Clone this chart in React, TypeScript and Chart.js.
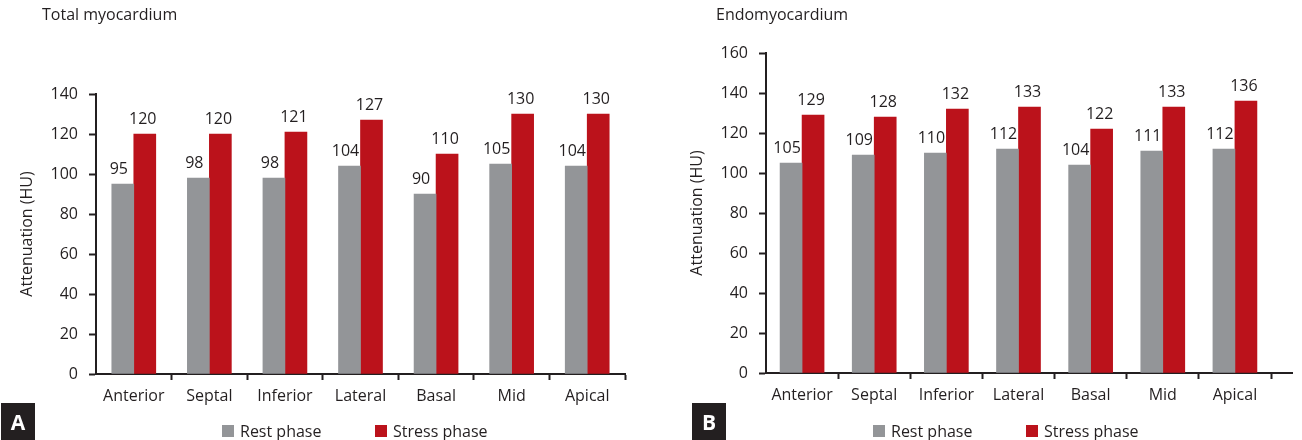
import React, { useEffect, useRef } from 'react';
import { Chart, registerables } from 'chart.js';

Chart.register(...registerables);

// ---- data ----
const categories = ['Anterior', 'Septal', 'Inferior', 'Lateral', 'Basal', 'Mid', 'Apical'];
const seriesLabels = ['Rest phase', 'Stress phase'];
const totalRest = [95, 98, 98, 104, 90, 105, 104];
const totalStress = [120, 120, 121, 127, 110, 130, 130];
const endoRest = [105, 109, 110, 112, 104, 111, 112];
const endoStress = [129, 128, 132, 133, 122, 133, 136];
const totalAxisMax = 140;
const endoAxisMax = 160;
const axisStep = 20;
const yAxisTitle = 'Attenuation (HU)';

// ---- styles ----
const FONT = '"Open Sans", "DejaVu Sans", sans-serif';
const GRAY = '#939598';
const RED = '#bb121b';
const TEXT = '#231f20';
const AXIS = '#231f20';
const LABEL_SHIFT = [-4, -2];

const valueLabelPlugin = {
  id: 'valueLabels',
  afterDatasetsDraw(chart: any) {
    const { ctx } = chart;
    ctx.save();
    ctx.font = `16px ${FONT}`;
    ctx.fillStyle = TEXT;
    ctx.textAlign = 'center';
    ctx.textBaseline = 'alphabetic';
    chart.data.datasets.forEach((ds: any, di: number) => {
      const meta = chart.getDatasetMeta(di);
      meta.data.forEach((el: any, i: number) => {
        ctx.fillText(String(ds.data[i]), el.x + LABEL_SHIFT[di], el.y - 10);
      });
    });
    ctx.restore();
  },
};

const decorPlugin = {
  id: 'decor',
  afterDraw(chart: any, _args: any, opts: any) {
    const { ctx, chartArea } = chart;
    ctx.save();
    // panel title
    ctx.font = `16px ${FONT}`;
    ctx.fillStyle = TEXT;
    ctx.textAlign = 'left';
    ctx.textBaseline = 'alphabetic';
    ctx.fillText(opts.title, opts.titleX, 20);
    // panel badge
    ctx.fillStyle = '#231f20';
    ctx.fillRect(opts.badgeX, 403, 34, 37);
    ctx.fillStyle = '#ffffff';
    ctx.font = `bold 21px ${FONT}`;
    ctx.textAlign = 'center';
    ctx.fillText(opts.badge, opts.badgeX + 17, 430);
    // legend
    let x = opts.legendX;
    chart.data.datasets.forEach((ds: any) => {
      ctx.fillStyle = ds.backgroundColor;
      ctx.fillRect(x, 425, 12, 12);
      ctx.fillStyle = TEXT;
      ctx.font = `16px ${FONT}`;
      ctx.textAlign = 'left';
      ctx.fillText(ds.label, x + 18, 437);
      x += 153;
    });
    // axis extension
    if (opts.axisExtend) {
      ctx.strokeStyle = AXIS;
      ctx.lineWidth = 2;
      ctx.beginPath();
      ctx.moveTo(chartArea.right, chartArea.bottom);
      ctx.lineTo(chartArea.right + opts.axisExtend, chartArea.bottom);
      ctx.stroke();
    }
    ctx.restore();
  },
};

type PanelProps = {
  rest: number[];
  stress: number[];
  max: number;
  width: number;
  padding: { left: number; right: number; top: number; bottom: number };
  title: string;
  titleX: number;
  badge: string;
  badgeX: number;
  legendX: number;
  axisExtend: number;
};

function Panel(p: PanelProps) {
  const ref = useRef<HTMLCanvasElement | null>(null);
  useEffect(() => {
    if (!ref.current) return;
    const chart = new Chart(ref.current, {
      type: 'bar',
      data: {
        labels: categories,
        datasets: [
          { label: seriesLabels[0], data: p.rest, backgroundColor: GRAY, barThickness: 22 },
          { label: seriesLabels[1], data: p.stress, backgroundColor: RED, barThickness: 22 },
        ],
      },
      options: {
        responsive: false,
        animation: false,
        layout: { padding: p.padding },
        plugins: {
          legend: { display: false },
          tooltip: { enabled: false },
          decor: {
            title: p.title,
            titleX: p.titleX,
            badge: p.badge,
            badgeX: p.badgeX,
            legendX: p.legendX,
            axisExtend: p.axisExtend,
          },
        } as any,
        scales: {
          x: {
            ticks: { font: { family: FONT, size: 16 }, color: TEXT, padding: 7, maxRotation: 0 },
            grid: {
              drawOnChartArea: false,
              drawTicks: true,
              tickLength: 6,
              tickWidth: 2,
              tickColor: (c: any) => (c.index === 0 ? 'rgba(0,0,0,0)' : AXIS),
            },
            border: { color: AXIS, width: 2 },
            afterFit: (s: any) => {
              s.height = 40;
            },
          },
          y: {
            min: 0,
            max: p.max,
            ticks: { stepSize: axisStep, font: { family: FONT, size: 16 }, color: TEXT, padding: 11 },
            grid: { drawOnChartArea: false, drawTicks: true, tickLength: 7, tickWidth: 2, tickColor: AXIS },
            border: { color: AXIS, width: 2 },
            title: {
              display: true,
              text: yAxisTitle,
              font: { family: FONT, size: 16 },
              color: TEXT,
              padding: { top: 8, bottom: 0 },
            },
            afterFit: (s: any) => {
              s.width = 86;
            },
          },
        },
      } as any,
      plugins: [valueLabelPlugin, decorPlugin],
    });
    return () => chart.destroy();
  }, []);
  return <canvas ref={ref} width={p.width} height={440} style={{ display: 'block' }} />;
}

export default function App() {
  useEffect(() => {
    document.body.style.margin = '0';
  }, []);
  return (
    <div style={{ position: 'relative', width: 1302, height: 440, background: '#fff' }}>
      <div style={{ position: 'absolute', left: 0, top: 0 }}>
        <Panel
          rest={totalRest}
          stress={totalStress}
          max={totalAxisMax}
          width={650}
          padding={{ left: 10, right: 25, top: 94, bottom: 26 }}
          title="Total myocardium"
          titleX={42}
          badge="A"
          badgeX={1}
          legendX={222}
          axisExtend={0}
        />
      </div>
      <div style={{ position: 'absolute', left: 650, top: 0 }}>
        <Panel
          rest={endoRest}
          stress={endoStress}
          max={endoAxisMax}
          width={652}
          padding={{ left: 30, right: 31, top: 53, bottom: 27 }}
          title="Endomyocardium"
          titleX={66}
          badge="B"
          badgeX={42}
          legendX={223}
          axisExtend={22}
        />
      </div>
    </div>
  );
}
